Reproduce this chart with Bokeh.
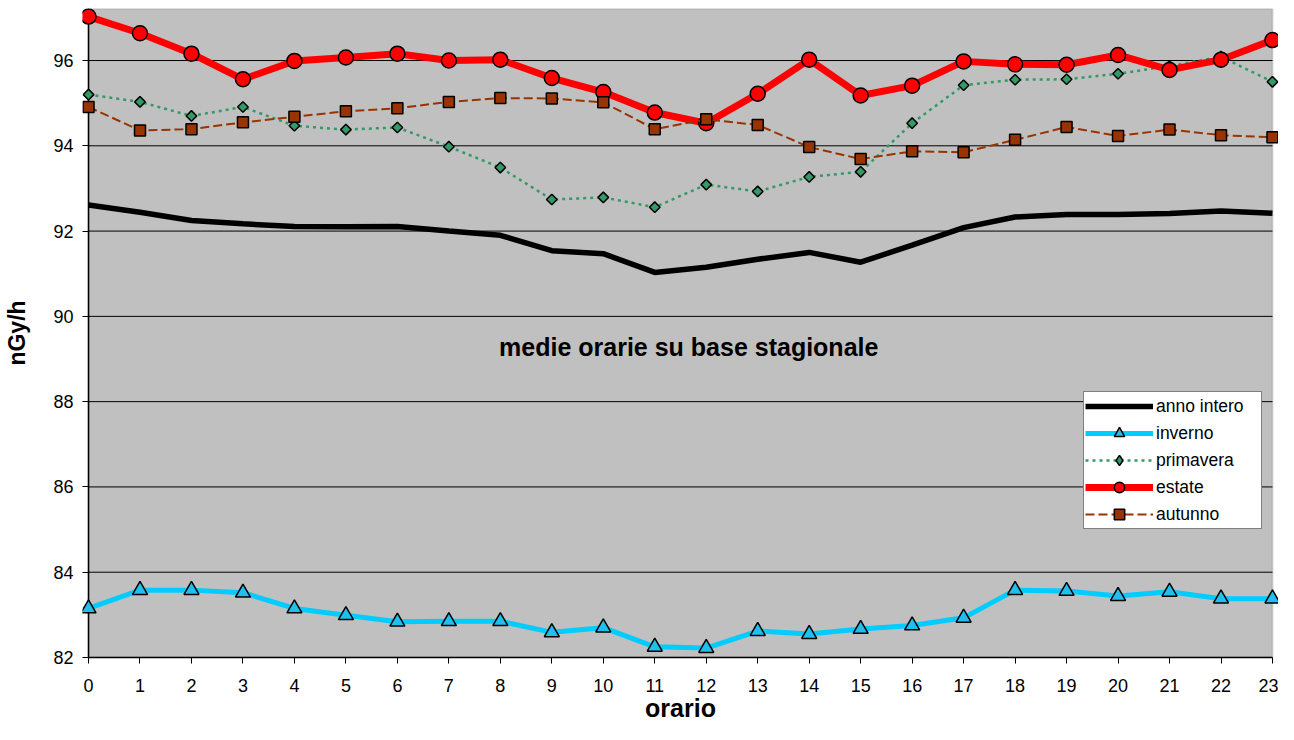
import math
from bokeh.plotting import figure
from bokeh.models import (Range1d, FixedTicker, Legend, LegendItem, Label,
                          BoxAnnotation, Span)
from bokeh.embed import file_html
from bokeh.resources import INLINE

# ---- data ----
hours = list(range(24))
y_ticks = [82, 84, 86, 88, 90, 92, 94, 96]
y_lo, y_hi = 82, 97.22

anno_intero = [92.61, 92.44, 92.25, 92.17, 92.11, 92.10, 92.11, 92.00, 91.90, 91.54,
               91.47, 91.03, 91.15, 91.34, 91.50, 91.27, 91.67, 92.08, 92.33, 92.39,
               92.39, 92.41, 92.47, 92.42]
inverno = [83.15, 83.58, 83.58, 83.52, 83.15, 82.99, 82.84, 82.85, 82.85, 82.59,
           82.70, 82.25, 82.22, 82.62, 82.55, 82.67, 82.75, 82.93, 83.58, 83.56,
           83.44, 83.54, 83.38, 83.38]
primavera = [95.20, 95.03, 94.70, 94.91, 94.47, 94.38, 94.43, 93.98, 93.49, 92.74,
             92.79, 92.56, 93.09, 92.93, 93.27, 93.39, 94.53, 95.42, 95.55, 95.56,
             95.69, 95.87, 96.09, 95.50]
estate = [97.03, 96.64, 96.16, 95.56, 95.99, 96.07, 96.16, 96.00, 96.02, 95.59,
          95.26, 94.78, 94.53, 95.22, 96.02, 95.18, 95.41, 95.98, 95.91, 95.90,
          96.13, 95.78, 96.02, 96.48]
autunno = [94.91, 94.36, 94.39, 94.55, 94.68, 94.81, 94.88, 95.03, 95.12, 95.11,
           95.02, 94.39, 94.62, 94.49, 93.97, 93.69, 93.87, 93.85, 94.14, 94.44,
           94.23, 94.38, 94.25, 94.20]

series_names = ["anno intero", "inverno", "primavera", "estate", "autunno"]
x_title = "orario"
y_title = "nGy/h"
note = "medie orarie su base stagionale"

FONT = "Liberation Sans"
PAD = 0.117  # small room so edge markers are not clipped

p = figure(width=1278, height=724, output_backend="svg", toolbar_location=None,
           x_range=Range1d(hours[0] - PAD, hours[-1] + PAD),
           y_range=Range1d(y_lo, y_hi),
           min_border_left=82, min_border_right=0, min_border_top=8,
           min_border_bottom=67)
p.background_fill_color = "white"
p.border_fill_color = "white"
p.outline_line_color = None

# plot area (grey panel between first and last hour)
p.add_layout(BoxAnnotation(left=hours[0], right=hours[-1], bottom=y_lo, top=y_hi,
                           fill_color="#C0C0C0", fill_alpha=1,
                           line_color="#808080", line_width=2, level="underlay"))
# vertical axis line at hour 0
p.add_layout(Span(location=hours[0], dimension="height", line_color="black",
                  line_width=1.5, level="underlay"))

p.xaxis.ticker = FixedTicker(ticks=hours)
p.yaxis.ticker = FixedTicker(ticks=y_ticks)
p.xgrid.visible = False
p.ygrid.visible = False
p.xaxis.bounds = (hours[0], hours[-1])

# horizontal grid lines across the plot area
p.segment(x0=[hours[0]] * (len(y_ticks) - 1), x1=[hours[-1]] * (len(y_ticks) - 1),
          y0=y_ticks[1:], y1=y_ticks[1:], line_color="black", line_width=1)

for ax in p.axis:
    ax.axis_line_color = "black"
    ax.axis_line_width = 1.5
    ax.major_tick_line_color = "black"
    ax.minor_tick_line_color = None
    ax.major_label_text_font = FONT
    ax.major_label_text_font_size = "18px"
    ax.major_label_text_color = "black"
    ax.axis_label_text_font = FONT
    ax.axis_label_text_font_style = "bold"
    ax.axis_label_text_color = "black"

p.xaxis.major_tick_in = 0
p.xaxis.major_tick_out = 6
p.xaxis.major_label_standoff = 15
p.xaxis.axis_label = x_title
p.xaxis.axis_label_text_font_size = "25px"
p.xaxis.axis_label_standoff = -1

p.yaxis.axis_line_color = None
p.yaxis.major_tick_in = 6
p.yaxis.major_tick_out = 0
p.yaxis.axis_label = y_title
p.yaxis.axis_label_text_font_size = "23px"
p.yaxis.major_label_standoff = 9
p.yaxis.axis_label_standoff = 20

r_anno = p.line(hours, anno_intero, line_color="black", line_width=5.5)
r_inv_l = p.line(hours, inverno, line_color="#00CCFF", line_width=5)
r_inv_m = p.scatter(hours, inverno, marker="triangle", size=15,
                    fill_color="#22BEEE", line_color="black", line_width=1.5)
r_pri_l = p.line(hours, primavera, line_color="#339966", line_width=2.5, line_dash="3 4")
r_pri_leg = p.scatter(hours, primavera, marker="diamond", size=0,
                      fill_color="#339966", line_color="black", line_width=1.5)
r_pri_m = p.scatter(hours, primavera, marker="square", angle=math.pi / 4, size=7.5,
                    fill_color="#339966", line_color="black", line_width=1.5)
r_est_l = p.line(hours, estate, line_color="#FF0000", line_width=7)
r_est_m = p.scatter(hours, estate, marker="circle", size=15,
                    fill_color="#FF0000", line_color="black", line_width=1.5)
r_aut_l = p.line(hours, autunno, line_color="#993300", line_width=2, line_dash="9 4")
r_aut_m = p.scatter(hours, autunno, marker="square", size=11,
                    fill_color="#993300", line_color="black", line_width=1.5)

legend = Legend(items=[
    LegendItem(label=series_names[0], renderers=[r_anno]),
    LegendItem(label=series_names[1], renderers=[r_inv_l, r_inv_m]),
    LegendItem(label=series_names[2], renderers=[r_pri_l, r_pri_leg]),
    LegendItem(label=series_names[3], renderers=[r_est_l, r_est_m]),
    LegendItem(label=series_names[4], renderers=[r_aut_l, r_aut_m]),
], location=(1001, 128))
legend.label_text_font = FONT
legend.label_text_font_size = "17.5px"
legend.label_text_color = "black"
legend.glyph_width = 68
legend.glyph_height = 26
legend.label_height = 26
legend.label_width = 104
legend.label_standoff = 3
legend.spacing = 1
legend.padding = 1
legend.border_line_color = "black"
legend.border_line_width = 1
legend.background_fill_color = "white"
legend.background_fill_alpha = 1
p.add_layout(legend)

p.add_layout(Label(x=11.66, y=89.27, text=note, text_align="center",
                   text_baseline="middle", text_font=FONT, text_font_size="25px",
                   text_font_style="bold", text_color="black"))

open("out.html", "w").write(file_html(p, INLINE))
